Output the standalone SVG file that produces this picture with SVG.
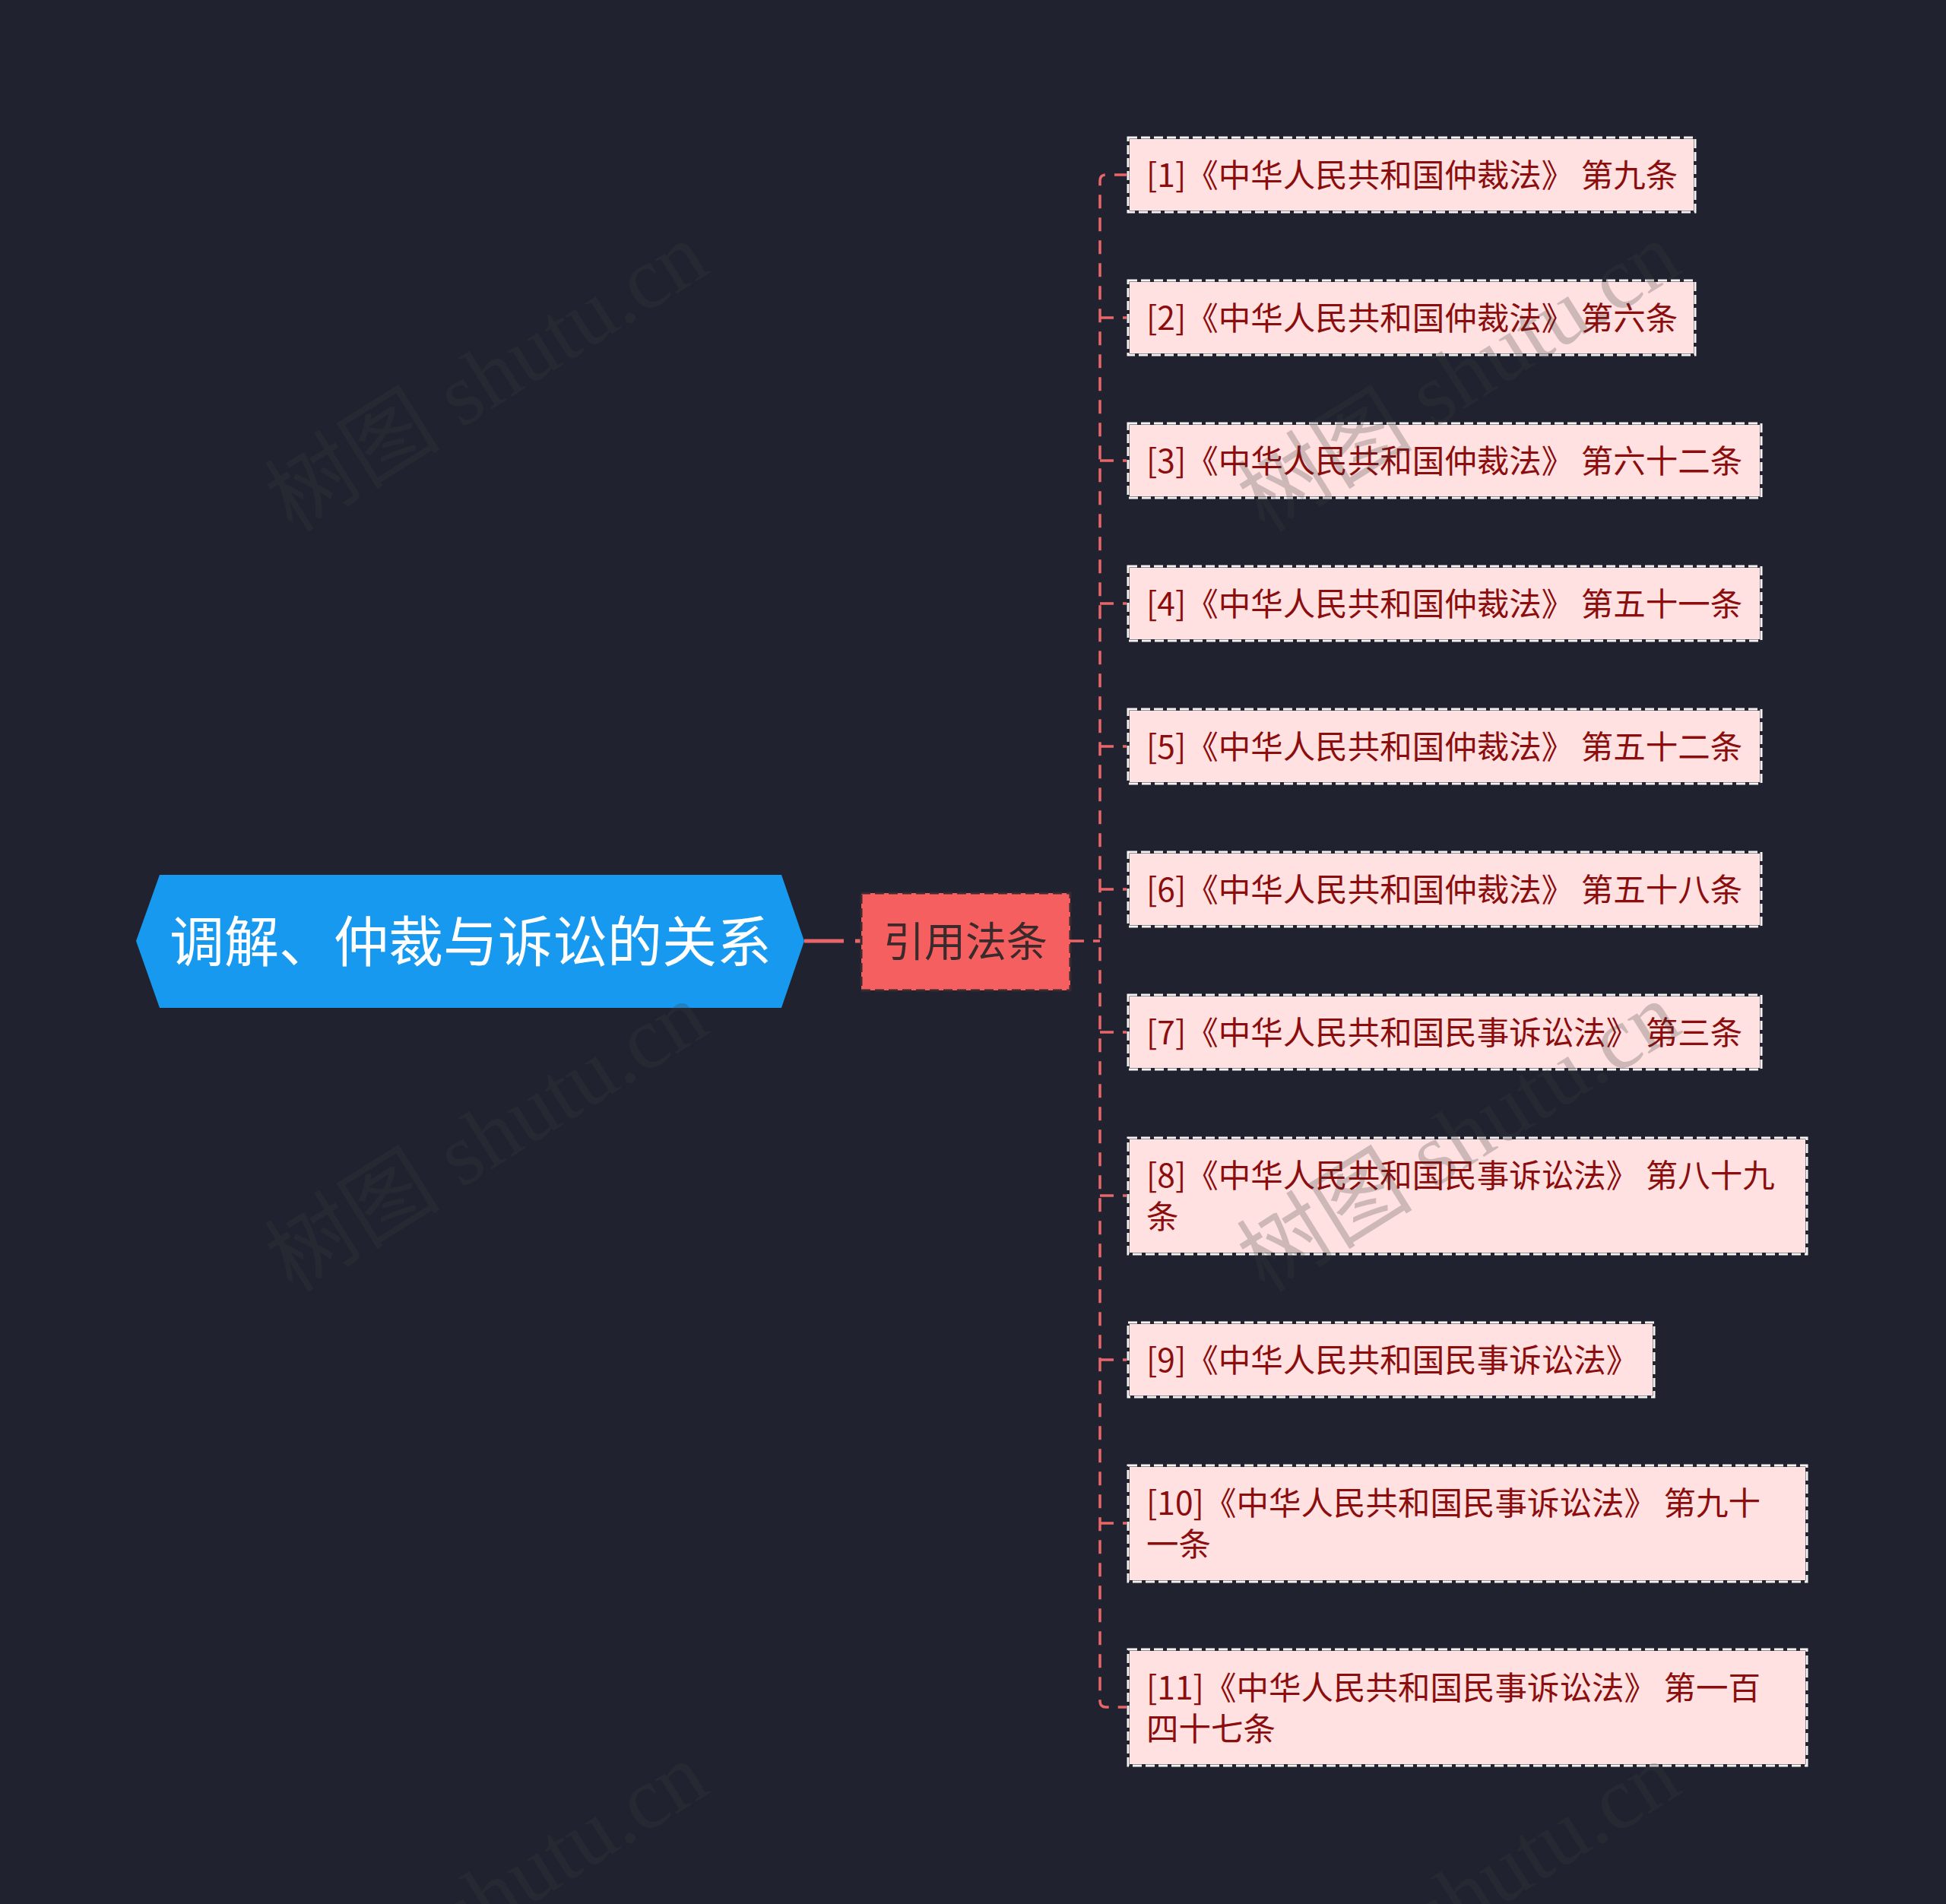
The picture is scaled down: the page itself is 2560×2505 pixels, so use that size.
<svg xmlns="http://www.w3.org/2000/svg" width="2560" height="2505" viewBox="0 0 2560 2505">
<style>
.bg{fill:#20232f}
.root{fill:#1899f0}
.roott{font-family:"Noto Sans CJK SC","Noto Sans",sans-serif;font-size:72px;fill:#ffffff}
.mid{fill:#f65f5f;stroke:#3a2b31;stroke-width:3;stroke-dasharray:12 6}
.midt{font-family:"Noto Sans CJK SC","Noto Sans",sans-serif;font-size:54px;fill:#3b2a2c}
.leafbg{fill:#ffe1e1;stroke:#22252f;stroke-width:4}
.leafb{fill:none;stroke:#f7f3f3;stroke-width:3;stroke-dasharray:12 5}
.leaft{font-family:"Noto Sans CJK SC","Noto Sans",sans-serif;font-size:42.5px;fill:#8b0d0d}
.con{fill:none;stroke:#e8666a;stroke-width:3.5;stroke-dasharray:18 12}
.wm{font-family:"Liberation Serif","Noto Sans CJK SC",serif;font-size:116px;fill:#3c3c3c;opacity:0.25}
</style>
<rect class="bg" x="0" y="0" width="2560" height="2505"/>

<g id="connectors">
<path d="M1058 1238 H1133" fill="none" stroke="#e8666a" stroke-width="5" stroke-dasharray="52 15 10 0"/>
<path class="con" d="M1408 1238 H1447"/>
<path class="con" d="M1484 230 H1455 Q1447 230 1447 238 V2238 Q1447 2246 1455 2246 H1484"/>
<path class="con" d="M1447 418 H1484"/>
<path class="con" d="M1447 606 H1484"/>
<path class="con" d="M1447 794 H1484"/>
<path class="con" d="M1447 982 H1484"/>
<path class="con" d="M1447 1170 H1484"/>
<path class="con" d="M1447 1358 H1484"/>
<path class="con" d="M1447 1573 H1484"/>
<path class="con" d="M1447 1789 H1484"/>
<path class="con" d="M1447 2004 H1484"/>
</g>

<g id="root">
<polygon class="root" points="179,1238 210,1151 1028,1151 1058,1238 1028,1326 210,1326"/>
<text class="roott" x="619" y="1265" text-anchor="middle">调解、仲裁与诉讼的关系</text>
</g>

<g id="mid">
<rect class="mid" x="1133" y="1175" width="275" height="128"/>
<text class="midt" x="1270" y="1259" text-anchor="middle">引用法条</text>
</g>

<g id="n1">
<rect class="leafbg" x="1484" y="181" width="746" height="98"/>
<rect class="leafb" x="1484" y="181" width="746" height="98"/>
<text class="leaft" x="1508" y="246">[1]《中华人民共和国仲裁法》 第九条</text>
</g>
<g id="n2">
<rect class="leafbg" x="1484" y="369" width="746" height="98"/>
<rect class="leafb" x="1484" y="369" width="746" height="98"/>
<text class="leaft" x="1508" y="434">[2]《中华人民共和国仲裁法》 第六条</text>
</g>
<g id="n3">
<rect class="leafbg" x="1484" y="557" width="833" height="98"/>
<rect class="leafb" x="1484" y="557" width="833" height="98"/>
<text class="leaft" x="1508" y="622">[3]《中华人民共和国仲裁法》 第六十二条</text>
</g>
<g id="n4">
<rect class="leafbg" x="1484" y="745" width="833" height="98"/>
<rect class="leafb" x="1484" y="745" width="833" height="98"/>
<text class="leaft" x="1508" y="810">[4]《中华人民共和国仲裁法》 第五十一条</text>
</g>
<g id="n5">
<rect class="leafbg" x="1484" y="933" width="833" height="98"/>
<rect class="leafb" x="1484" y="933" width="833" height="98"/>
<text class="leaft" x="1508" y="998">[5]《中华人民共和国仲裁法》 第五十二条</text>
</g>
<g id="n6">
<rect class="leafbg" x="1484" y="1121" width="833" height="98"/>
<rect class="leafb" x="1484" y="1121" width="833" height="98"/>
<text class="leaft" x="1508" y="1186">[6]《中华人民共和国仲裁法》 第五十八条</text>
</g>
<g id="n7">
<rect class="leafbg" x="1484" y="1309" width="833" height="98"/>
<rect class="leafb" x="1484" y="1309" width="833" height="98"/>
<text class="leaft" x="1508" y="1374">[7]《中华人民共和国民事诉讼法》 第三条</text>
</g>
<g id="n8">
<rect class="leafbg" x="1484" y="1497" width="893" height="153"/>
<rect class="leafb" x="1484" y="1497" width="893" height="153"/>
<text class="leaft" x="1508" y="1562">[8]《中华人民共和国民事诉讼法》 第八十九</text>
<text class="leaft" x="1508" y="1616">条</text>
</g>
<g id="n9">
<rect class="leafbg" x="1484" y="1740" width="692" height="98"/>
<rect class="leafb" x="1484" y="1740" width="692" height="98"/>
<text class="leaft" x="1508" y="1805">[9]《中华人民共和国民事诉讼法》</text>
</g>
<g id="n10">
<rect class="leafbg" x="1484" y="1928" width="893" height="153"/>
<rect class="leafb" x="1484" y="1928" width="893" height="153"/>
<text class="leaft" x="1508" y="1993">[10]《中华人民共和国民事诉讼法》 第九十</text>
<text class="leaft" x="1508" y="2047">一条</text>
</g>
<g id="n11">
<rect class="leafbg" x="1484" y="2170" width="893" height="153"/>
<rect class="leafb" x="1484" y="2170" width="893" height="153"/>
<text class="leaft" x="1508" y="2236">[11]《中华人民共和国民事诉讼法》 第一百</text>
<text class="leaft" x="1508" y="2290">四十七条</text>
</g>

<g id="watermarks">
<text class="wm" transform="translate(385 702) rotate(-32)">树图 shutu.cn</text>
<text class="wm" transform="translate(385 1702) rotate(-32)">树图 shutu.cn</text>
<text class="wm" transform="translate(385 2702) rotate(-32)">树图 shutu.cn</text>
<text class="wm" transform="translate(1664 702) rotate(-32)">树图 shutu.cn</text>
<text class="wm" transform="translate(1664 1702) rotate(-32)">树图 shutu.cn</text>
<text class="wm" transform="translate(1664 2702) rotate(-32)">树图 shutu.cn</text>
</g>
</svg>
